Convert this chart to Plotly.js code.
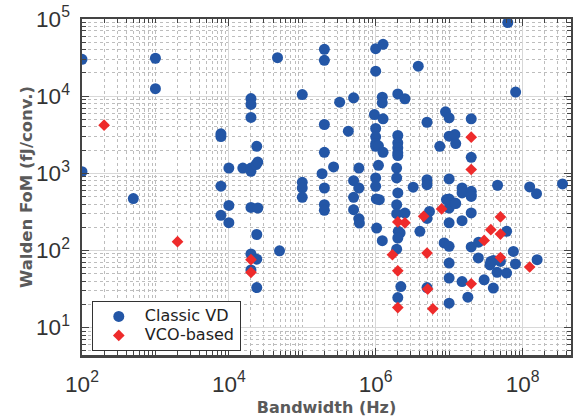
<!DOCTYPE html>
<html>
<head>
<meta charset="utf-8">
<script src="https://cdn.plot.ly/plotly-3.0.1.min.js"></script>
<style>html,body{margin:0;padding:0;background:#fff;}#chart{width:573px;height:419px;}</style>
</head>
<body>
<div id="chart"></div>
<script>
// Classic VD (bandwidth Hz, Walden FoM fJ/conv.)
const classicBW = [
  100, 1000, 1000, 100, 500, 7800, 7800, 10000, 7800, 15500,
  20000, 20000, 23500, 24800, 24000, 20000, 20000, 20000, 46000, 100000,
  100000, 100000, 100000, 7800, 10000, 10000, 20000, 24800, 24000, 49000,
  20000, 24000, 20000, 24000,
  2e5, 2e5, 1e6, 1.26e6, 1e6, 3.8e6, 6.3e7, 8.05e7, 3.23e5, 5e5,
  1.23e6, 1.23e6, 2e6, 2.5e6, 9.6e5, 1.26e6, 2e5, 4.24e5, 1e6, 1e6,
  1e6, 1e6, 1.09e6, 1.26e6, 2e6, 2e6, 2e6, 2e6, 2e6, 2e5,
  1.09e6, 1.93e6, 1.93e6, 5.9e5, 2.67e5, 1.86e5, 2e5, 5e5, 5.9e5, 1e6,
  1e6, 1.02e6, 1.12e6, 5e5, 2e6, 3.24e6, 5e6, 5e6, 7.46e6, 5e6,
  8.93e6, 1e7, 1e7, 1.2e7, 1.23e7, 1e7, 1e7, 1.5e7, 1.5e7, 2e7,
  2e7, 2e7, 2e7, 4.57e7, 1.25e8, 1.55e8, 3.5e8,
  2e5, 2e5, 5e5, 5.9e5, 6e5, 1.93e6, 1.03e6, 1.23e6, 1.93e6, 2.5e6,
  2.03e6, 2.15e6, 2e6, 1.93e6, 2.2e6, 2e6, 4e6, 5.4e6, 5e6, 5e6,
  1e7, 1e7, 8.55e6, 1e7, 1e7, 1e7, 1e7, 9.2e6, 1.2e7, 1.23e7,
  2e7, 1.5e7, 2e7, 1.5e7, 1.8e7, 2e7, 2.52e7, 2.5e7, 3e7, 6.07e7,
  3.7e7, 4e7, 5e7, 3.6e7, 4.5e7, 6.07e7, 4e7, 7.5e7, 8e7, 1.58e8
];
const classicFoM = [
  30000, 31000, 12500, 1050, 470, 3250, 3000, 1170, 680, 1170,
  1170, 1060, 1300, 1400, 2240, 9300, 7800, 5300, 31500, 10500,
  765, 645, 488, 285, 384, 229, 361, 355, 161, 99,
  90, 77, 56, 33,
  40400, 29100, 41300, 46900, 21100, 24500, 90000, 11300, 8350, 9530,
  9700, 8200, 10700, 9250, 5780, 5080, 4290, 3510, 3810, 2970,
  2430, 2240, 2270, 1870, 3090, 2480, 2140, 1840, 1700, 1870,
  1270, 1170, 870, 1170, 1210, 990, 645, 803, 645, 870,
  678, 465, 455, 488, 556, 660, 828, 713, 2240, 4590,
  6270, 5240, 3030, 3180, 2430, 845, 465, 645, 556, 5080,
  1610, 584, 528, 700, 665, 545, 728,
  392, 331, 338, 258, 227, 392, 195, 134, 300, 305,
  177, 169, 145, 104, 34, 24.5, 177, 320, 260, 33,
  355, 228, 125, 113, 68.6, 43.8, 20.7, 456, 413, 406,
  502, 243, 306, 39.5, 24.8, 111, 128, 80, 41.7, 177,
  72, 74, 72, 65, 52, 51, 32.5, 97, 67, 76
];
// VCO-based
const vcoBW = [
  200, 2000, 20000, 20000, 2e7, 2e7, 2e6, 2.5e6, 1.69e6, 2e6,
  2e6, 4.5e6, 5e6, 5.1e6, 6e6, 7.9e6, 2e7, 3e7, 3.7e7, 5e7,
  5e7, 5e7, 1.25e8
];
const vcoFoM = [
  4200, 130, 76, 52, 2940, 1120, 234, 228, 88, 54.5,
  18.2, 277, 92.5, 31.6, 17.5, 345, 37, 135, 186, 272,
  163, 81, 61
];
const seriesNames = ['Classic VD', 'VCO-based'];
const xTitle = 'Bandwidth (Hz)';
const yTitle = 'Walden FoM (fJ/conv.)';

const axisCommon = {
  type: 'log',
  showline: true, linecolor: '#444444', linewidth: 2.5, mirror: 'allticks',
  ticks: 'inside', ticklen: 7, tickwidth: 1, tickcolor: '#444444',
  showgrid: true, gridcolor: '#d8d8d8', gridwidth: 1,
  zeroline: false,
  exponentformat: 'power',
  tickfont: {family: 'Liberation Sans, Arial, sans-serif', size: 18, color: '#333333'},
  minor: {ticks: 'inside', ticklen: 4, tickcolor: '#444444', showgrid: true,
          gridcolor: '#bdbdbd', griddash: 'dot', gridwidth: 1, dtick: 'D1'},
  automargin: false
};

const legendName = s => '<span style="font-size:16px">' + s + '</span>';

const data = [
  {x: classicBW, y: classicFoM, name: legendName(seriesNames[0]), type: 'scatter', mode: 'markers',
   marker: {symbol: 'circle', size: 11, color: '#2356A6'}},
  {x: vcoBW, y: vcoFoM, name: legendName(seriesNames[1]), type: 'scatter', mode: 'markers',
   marker: {symbol: 'diamond', size: 9, color: '#EE2B2B'}}
];

const layout = {
  width: 573, height: 419,
  margin: {l: 82, r: 2, t: 19, b: 64},
  paper_bgcolor: '#ffffff', plot_bgcolor: '#ffffff',
  showlegend: true,
  legend: {x: 0.02, y: 0.012, xanchor: 'left', yanchor: 'bottom',
           bgcolor: '#ffffff', bordercolor: '#333333', borderwidth: 1,
           font: {family: 'DejaVu Sans, sans-serif', size: 11, color: '#222222'},
           itemwidth: 42},
  xaxis: Object.assign({}, axisCommon, {
    range: [2, 8.66], dtick: 2, ticklabelstandoff: 8,
    title: {text: xTitle, standoff: 6,
            font: {family: 'DejaVu Sans, sans-serif', size: 16, color: '#5a5a5a', weight: 'bold'}}
  }),
  yaxis: Object.assign({}, axisCommon, {
    range: [0.645, 5], dtick: 1, ticklabelstandoff: 6,
    labelalias: {'10': '10<sup>1</sup>'},
    title: {text: yTitle, standoff: 0,
            font: {family: 'DejaVu Sans, sans-serif', size: 16.5, color: '#5a5a5a', weight: 'bold'}}
  })
};

Plotly.newPlot('chart', data, layout, {staticPlot: true, displayModeBar: false});
</script>
</body>
</html>
